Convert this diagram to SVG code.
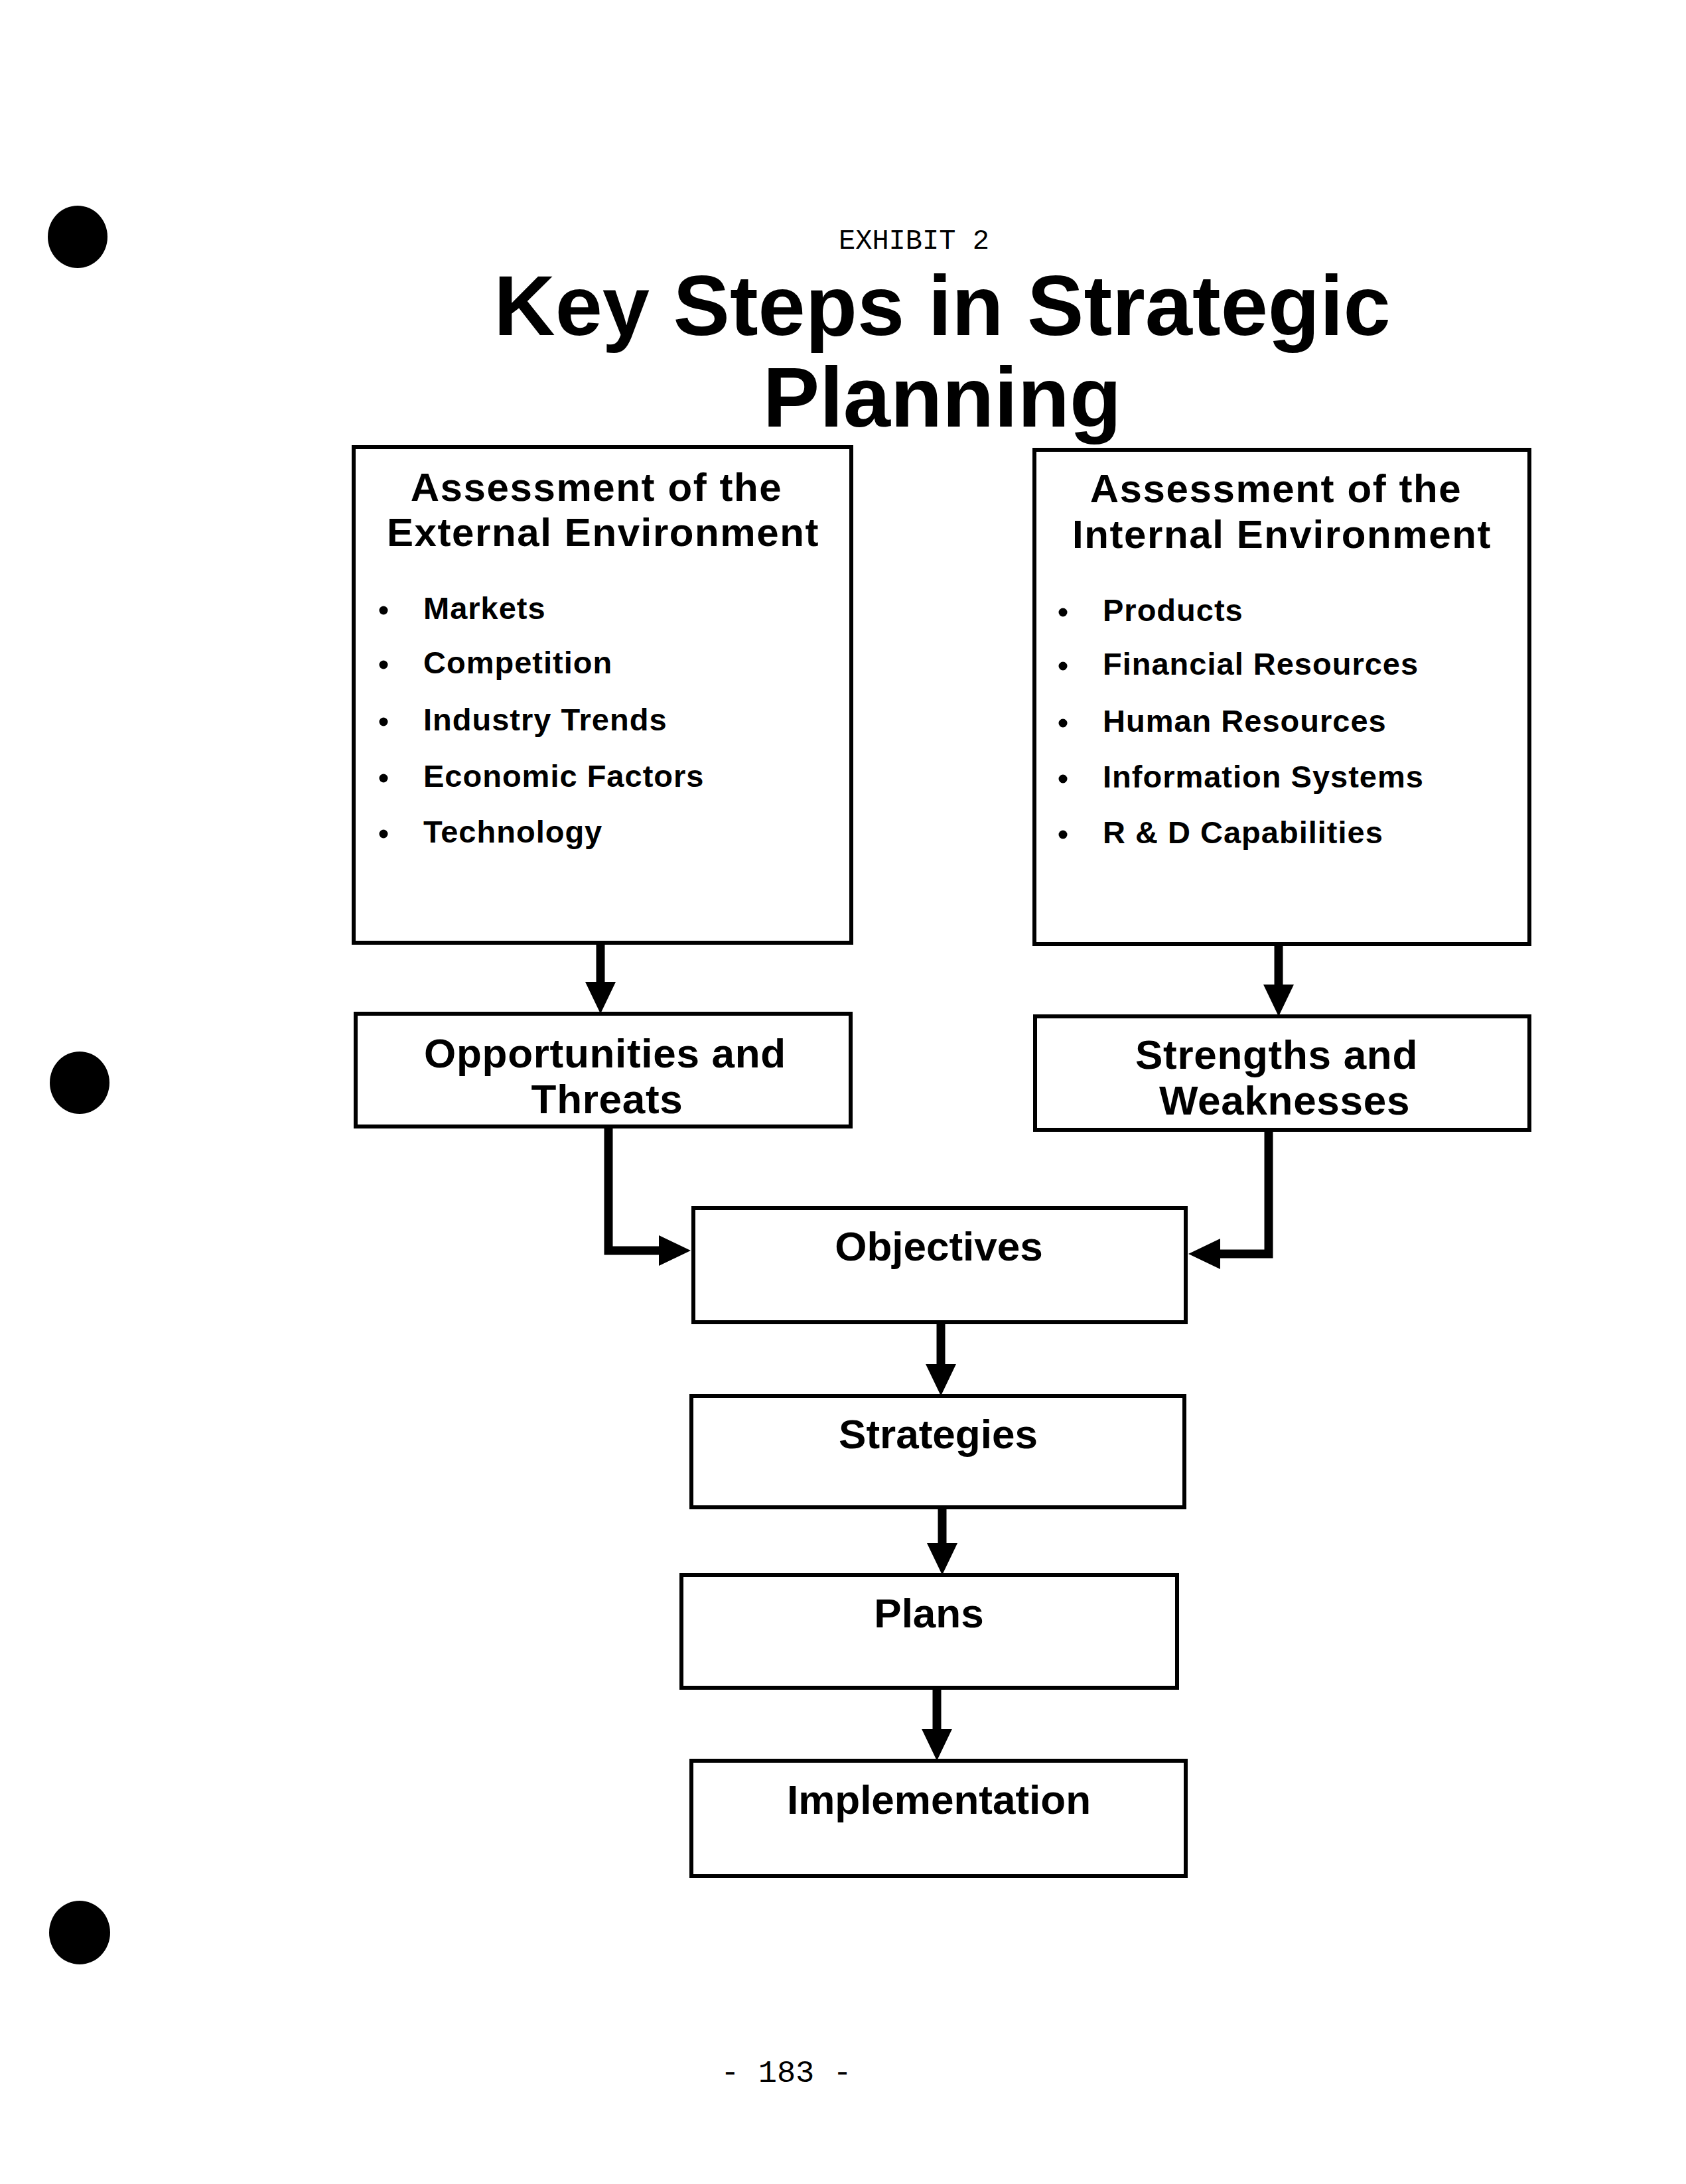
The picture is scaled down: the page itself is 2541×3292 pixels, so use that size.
<svg xmlns="http://www.w3.org/2000/svg" width="2541" height="3292" viewBox="0 0 2541 3292">
<style>
.box{fill:#fff;stroke:#000;stroke-width:6}
.hd{font-family:"Liberation Sans",Arial,sans-serif;font-weight:bold;font-size:60px;letter-spacing:1.6px;text-anchor:middle;fill:#000}
.it{font-family:"Liberation Sans",Arial,sans-serif;font-weight:bold;font-size:47px;letter-spacing:1px;fill:#000}
.lb{font-family:"Liberation Sans",Arial,sans-serif;font-weight:bold;font-size:62px;text-anchor:middle;fill:#000}
.lb2{font-family:"Liberation Sans",Arial,sans-serif;font-weight:bold;font-size:62px;letter-spacing:0.7px;text-anchor:middle;fill:#000}
.mono{font-family:"Liberation Mono","Courier New",monospace;font-size:42px;fill:#000}
.pg{font-family:"Liberation Mono","Courier New",monospace;font-size:47px;fill:#000;text-anchor:middle}
.ttl{font-family:"Liberation Sans",Arial,sans-serif;font-weight:bold;font-size:128px;text-anchor:middle;fill:#000}
.con{fill:none;stroke:#000;stroke-width:13;stroke-linejoin:miter}
.dot{fill:#000}
</style>
<defs>
<marker id="ah" markerUnits="userSpaceOnUse" viewBox="0 0 48 46" markerWidth="48" markerHeight="46" refX="1" refY="23" orient="auto">
<path d="M0,0 L48,23 L0,46 z" fill="#000"/>
</marker>
</defs>
<rect x="0" y="0" width="2541" height="3292" fill="#fff"/>
<g id="punch-holes">
<ellipse cx="117" cy="357" rx="45" ry="47" class="dot"/>
<ellipse cx="120" cy="1632" rx="45" ry="47" class="dot"/>
<ellipse cx="120" cy="2913" rx="46" ry="48" class="dot"/>
</g>
<g id="title">
<text x="1264" y="375" class="mono">EXHIBIT 2</text>
<text x="1420" y="505" class="ttl">Key Steps in Strategic</text>
<text x="1420" y="643" class="ttl">Planning</text>
</g>
<g id="connectors">
<path class="con" d="M905,1421 V1481" marker-end="url(#ah)"/>
<path class="con" d="M1927,1423 V1485" marker-end="url(#ah)"/>
<path class="con" d="M917,1698 V1885 H994" marker-end="url(#ah)"/>
<path class="con" d="M1912,1703 V1890 H1838" marker-end="url(#ah)"/>
<path class="con" d="M1418,1993 V2057" marker-end="url(#ah)"/>
<path class="con" d="M1420,2272 V2327" marker-end="url(#ah)"/>
<path class="con" d="M1412,2544 V2607" marker-end="url(#ah)"/>
</g>
<g id="external">
<rect class="box" x="533" y="674" width="750" height="747"/>
<text x="899" y="755" class="hd">Assessment of the</text>
<text x="909" y="823" class="hd">External Environment</text>
<circle cx="578" cy="920" r="6.5" class="dot"/><text x="638" y="933" class="it">Markets</text>
<circle cx="578" cy="1002" r="6.5" class="dot"/><text x="638" y="1015" class="it">Competition</text>
<circle cx="578" cy="1088" r="6.5" class="dot"/><text x="638" y="1101" class="it">Industry Trends</text>
<circle cx="578" cy="1173" r="6.5" class="dot"/><text x="638" y="1186" class="it">Economic Factors</text>
<circle cx="578" cy="1257" r="6.5" class="dot"/><text x="638" y="1270" class="it">Technology</text>
</g>
<g id="internal">
<rect class="box" x="1559" y="678" width="746" height="745"/>
<text x="1923" y="757" class="hd">Assessment of the</text>
<text x="1932" y="826" class="hd">Internal Environment</text>
<circle cx="1602" cy="923" r="6.5" class="dot"/><text x="1662" y="936" class="it">Products</text>
<circle cx="1602" cy="1004" r="6.5" class="dot"/><text x="1662" y="1017" class="it">Financial Resources</text>
<circle cx="1602" cy="1090" r="6.5" class="dot"/><text x="1662" y="1103" class="it">Human Resources</text>
<circle cx="1602" cy="1174" r="6.5" class="dot"/><text x="1662" y="1187" class="it">Information Systems</text>
<circle cx="1602" cy="1258" r="6.5" class="dot"/><text x="1662" y="1271" class="it">R &amp; D Capabilities</text>
</g>
<g id="opportunities">
<rect class="box" x="536" y="1528" width="746" height="170"/>
<text x="912" y="1609" class="lb2">Opportunities and</text>
<text x="915" y="1678" class="lb2">Threats</text>
</g>
<g id="strengths">
<rect class="box" x="1560" y="1532" width="745" height="171"/>
<text x="1924" y="1611" class="lb2">Strengths and</text>
<text x="1936" y="1680" class="lb2">Weaknesses</text>
</g>
<g id="objectives">
<rect class="box" x="1045" y="1821" width="742" height="172"/>
<text x="1415" y="1900" class="lb">Objectives</text>
</g>
<g id="strategies">
<rect class="box" x="1042" y="2104" width="743" height="168"/>
<text x="1414" y="2183" class="lb">Strategies</text>
</g>
<g id="plans">
<rect class="box" x="1027" y="2374" width="747" height="170"/>
<text x="1400" y="2453" class="lb">Plans</text>
</g>
<g id="implementation">
<rect class="box" x="1042" y="2654" width="745" height="174"/>
<text x="1415" y="2734" class="lb">Implementation</text>
</g>
<g id="page-number">
<text x="1185" y="3138" class="pg">- 183 -</text>
</g>
</svg>
